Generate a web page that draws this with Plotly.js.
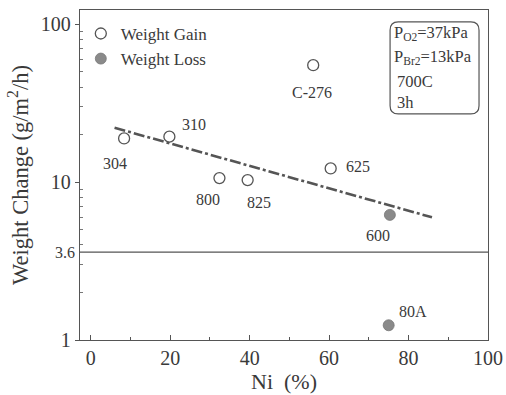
<!DOCTYPE html>
<html><head><meta charset="utf-8">
<script src="https://cdn.plot.ly/plotly-3.0.1.min.js"></script>
<style>html,body{margin:0;padding:0;background:#fff}</style>
</head><body><div id="chart" style="width:506px;height:395px"></div>
<script>
// Data
const gainNames = ["304", "310", "800", "825", "C-276", "625"];
const gainNi = [8.4, 19.8, 32.4, 39.5, 56, 60.4];
const gainWC = [18.9, 19.4, 10.6, 10.3, 55, 12.2];
const lossNames = ["600", "80A"];
const lossNi = [75.3, 75];
const lossWC = [6.2, 1.24];
const trendNi = [6.0, 85.9];
const trendWC = [22.1, 5.98];
const refLevel = 3.6;
const yTickVals = [1, 10, 100];
const xTickVals = [0, 20, 40, 60, 80, 100];
const conditions = ["P<sub>O2</sub>=37kPa", "P<sub>Br2</sub>=13kPa", "700C", "3h"];

// label offsets (px) for each point label
const labelShift = {
  "304": [-9, -25], "310": [25, 12], "800": [-11, -21], "825": [11, -22],
  "C-276": [-1, -27], "625": [27, 2], "600": [-12, -21], "80A": [24, 14]
};

const ink = '#3a3a3a';
const font = 'Liberation Serif, Times New Roman, serif';

const traces = [
  {x: trendNi, y: trendWC, mode: 'lines', showlegend: false, hoverinfo: 'skip',
   line: {color: '#555', width: 2.6, dash: '11px,3px,3px,3px'}},
  {x: gainNi, y: gainWC, mode: 'markers', name: 'Weight Gain',
   marker: {symbol: 'circle-open', size: 11, color: '#555', line: {width: 1.3, color: '#555'}}},
  {x: lossNi, y: lossWC, mode: 'markers', name: 'Weight Loss',
   marker: {symbol: 'circle', size: 11, color: '#8a8a8a', line: {width: 0.8, color: '#777'}}}
];

const annotations = [];
function addLabels(names, xs, ys) {
  names.forEach((n, i) => {
    const s = labelShift[n] || [0, 0];
    annotations.push({x: xs[i], y: Math.log10(ys[i]), xref: 'x', yref: 'y', text: n,
      showarrow: false, xshift: s[0], yshift: s[1], font: {family: font, size: 16, color: ink}});
  });
}
addLabels(gainNames, gainNi, gainWC);
addLabels(lossNames, lossNi, lossWC);

annotations.push({x: 0, y: Math.log10(refLevel), xref: 'paper', yref: 'y', text: '3.6',
  showarrow: false, xanchor: 'right', xshift: -3, font: {family: font, size: 16, color: ink}});

const condY = [0.930, 0.858, 0.782, 0.721];
const condX = [0.764, 0.764, 0.771, 0.773];
conditions.forEach((t, i) => {
  annotations.push({x: condX[i], y: condY[i], xref: 'paper', yref: 'paper', text: t,
    showarrow: false, xanchor: 'left', yanchor: 'middle', font: {family: font, size: 16.5, color: ink}});
});

// rounded box
const bx0 = 0.760, bx1 = 0.978, by0 = 0.685, by1 = 0.964, rx = 0.02, ry = 0.025;
const boxPath = `M ${bx0+rx} ${by1} L ${bx1-rx} ${by1} Q ${bx1} ${by1} ${bx1} ${by1-ry} L ${bx1} ${by0+ry} Q ${bx1} ${by0} ${bx1-rx} ${by0} L ${bx0+rx} ${by0} Q ${bx0} ${by0} ${bx0} ${by0+ry} L ${bx0} ${by1-ry} Q ${bx0} ${by1} ${bx0+rx} ${by1} Z`;

const layout = {
  width: 506, height: 395,
  margin: {l: 80, r: 18, t: 10, b: 55},
  paper_bgcolor: '#fff', plot_bgcolor: '#fff',
  font: {family: font, color: ink},
  showlegend: true,
  legend: {x: 0.002, y: 0.982, xanchor: 'left', yanchor: 'top', bgcolor: 'rgba(0,0,0,0)',
    font: {family: font, size: 17, color: ink}, itemwidth: 30, tracegroupgap: 0},
  xaxis: {range: [-2.7, 100], tickvals: xTickVals, ticks: 'inside', ticklen: 5, tickwidth: 1,
    tickcolor: '#555', showline: true, linecolor: '#555', linewidth: 1.2, mirror: true,
    showgrid: false, zeroline: false, tickfont: {family: font, size: 20, color: ink},
    minor: {tickvals: [10, 30, 50, 70, 90], ticks: 'inside', ticklen: 3, tickcolor: '#555'},
    title: {text: 'Ni  (%)', font: {family: font, size: 22, color: ink}, standoff: 2}},
  yaxis: {type: 'log', range: [0, 2.09], tickvals: yTickVals, ticktext: ['1', '10', '100'],
    ticks: 'outside', ticklen: 4, tickcolor: '#555', showline: true, linecolor: '#555',
    linewidth: 1.2, mirror: true, showgrid: false, zeroline: false,
    tickfont: {family: font, size: 20, color: ink},
    minor: {tickvals: [2,3,4,5,6,7,8,9,20,30,40,50,60,70,80,90], ticks: 'inside', ticklen: 3, tickcolor: '#777'},
    title: {text: 'Weight Change (g/m<sup>2</sup>/h)', font: {family: font, size: 22.5, color: ink}, standoff: 6}},
  shapes: [
    {type: 'line', xref: 'paper', yref: 'y', x0: 0, x1: 1, y0: refLevel, y1: refLevel,
     line: {color: '#555', width: 1.3}},
    {type: 'path', xref: 'paper', yref: 'paper', path: boxPath, line: {color: '#555', width: 1.2}}
  ],
  annotations: annotations
};

Plotly.newPlot('chart', traces, layout, {displayModeBar: false, staticPlot: true});
</script>
</body></html>
